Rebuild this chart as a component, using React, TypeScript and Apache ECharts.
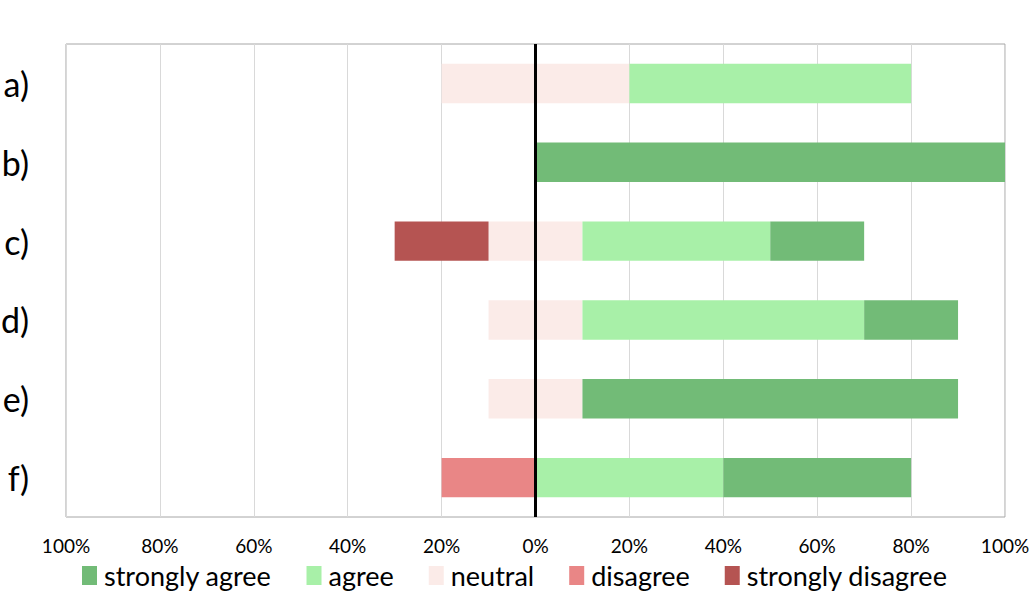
import React, { useEffect, useRef } from "react";
import * as echarts from "echarts";

const categories = ["a)", "b)", "c)", "d)", "e)", "f)"];
const neutralLeft = [-20, 0, -10, -10, -10, 0];
const neutralRight = [20, 0, 10, 10, 10, 0];
const agree = [60, 0, 40, 60, 0, 40];
const stronglyAgree = [0, 100, 20, 20, 80, 40];
const disagree = [0, 0, 0, 0, 0, -20];
const stronglyDisagree = [0, 0, -20, 0, 0, 0];
const legendNames = ["strongly agree", "agree", "neutral", "disagree", "strongly disagree"];

const COLORS = {
  sa: "#72bb77",
  a: "#a8f0a8",
  n: "#fbebe8",
  d: "#e98686",
  sd: "#b55452",
};

export default function App() {
  const ref = useRef<HTMLDivElement>(null);
  useEffect(() => {
    document.body.style.margin = "0";
    const chart = echarts.init(ref.current!, null, { renderer: "svg" });
    const bar = (name: string, data: number[], color: string, extra: any = {}) => ({
      type: "bar",
      name,
      stack: "total",
      data,
      barCategoryGap: "50%",
      itemStyle: { color },
      emphasis: { disabled: true },
      ...extra,
    });
    chart.setOption({
      animation: false,
      grid: {
        left: 66,
        right: 31,
        top: 44,
        bottom: 81,
        show: true,
        borderColor: "#a6a6a6",
        borderWidth: 1,
        containLabel: false,
        outerBoundsMode: "none",
      },
      legend: {
        data: legendNames,
        bottom: 4,
        left: 77,
        itemWidth: 15,
        itemHeight: 19,
        itemGap: 35,
        icon: "rect",
        textStyle: {
          fontFamily: "Lato",
          fontSize: 27,
          color: "#000",
          padding: [0, 0, 0, 2],
        },
      },
      xAxis: {
        type: "value",
        min: -100,
        max: 100,
        interval: 20,
        axisLine: { show: false },
        axisTick: { show: false },
        splitLine: { show: true, lineStyle: { color: "#d9d9d9", width: 1 } },
        axisLabel: {
          formatter: (v: number) => Math.abs(v) + "%",
          fontFamily: "Lato",
          fontSize: 19,
          color: "#000",
          margin: 19,
        },
      },
      yAxis: {
        type: "category",
        data: categories,
        inverse: true,
        axisLine: { show: false },
        axisTick: { show: false },
        splitLine: { show: false },
        axisLabel: {
          fontFamily: "Lato",
          fontSize: 34,
          color: "#000",
          margin: 37,
        },
      },
      series: [
        bar("neutral", neutralLeft, COLORS.n),
        bar("neutral", neutralRight, COLORS.n),
        bar("agree", agree, COLORS.a),
        bar("strongly agree", stronglyAgree, COLORS.sa),
        bar("disagree", disagree, COLORS.d),
        bar("strongly disagree", stronglyDisagree, COLORS.sd, {
          markLine: {
            silent: true,
            symbol: "none",
            label: { show: false },
            lineStyle: { color: "#000", width: 3, type: "solid" },
            data: [{ xAxis: 0 }],
          },
        }),
      ],
    });
    return () => chart.dispose();
  }, []);
  return <div ref={ref} style={{ width: 1036, height: 598 }} />;
}
